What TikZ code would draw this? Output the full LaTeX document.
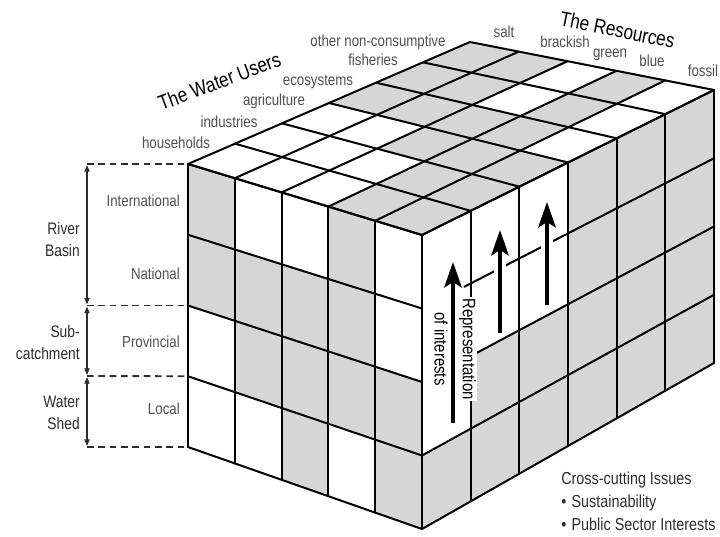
\documentclass[tikz,border=0pt]{standalone}
\usepackage{fontspec}
\setmainfont{Liberation Sans}
\newfontfamily\condfont[FakeStretch=0.83]{Liberation Sans}
\usetikzlibrary{calc,arrows.meta}
\definecolor{cellgrey}{RGB}{214,214,214}
\definecolor{labgrey}{RGB}{80,80,80}
\definecolor{darktext}{RGB}{45,45,45}
\begin{document}
\begin{tikzpicture}[x=0.75pt,y=-0.75pt,
  gridline/.style={line width=1.5pt, line join=round, line cap=round},
  cell/.style={fill=cellgrey},
  userlbl/.style={font=\condfont\fontsize{12}{14}\selectfont, text=labgrey, inner sep=0pt, anchor=base},
  titlelbl/.style={font=\condfont\fontsize{15.5}{17}\selectfont, inner sep=0pt, anchor=base},
  levellbl/.style={font=\condfont\fontsize{12}{14}\selectfont, text=labgrey, inner sep=0pt, anchor=base east},
  scalelbl/.style={font=\condfont\fontsize{12.5}{16.5}\selectfont, text=darktext, inner sep=0pt, align=right, anchor=east},
  crosslbl/.style={font=\condfont\fontsize{13}{17}\selectfont, text=darktext, inner sep=0pt, align=left, anchor=north west},
  dashline/.style={line width=1.4pt, dash pattern=on 5pt off 3.5pt, draw=darktext},
  dimarrow/.style={line width=0.9pt, draw=darktext, {Triangle[length=5pt,width=4pt]}-{Triangle[length=5pt,width=4pt]}, shorten <=0.8pt, shorten >=0.8pt},
  bigarrow/.style={line width=3.2pt, -{Stealth[length=19pt,width=13pt,inset=4pt]}},
  halo/.style={line width=9pt, draw=white, shorten >=12pt},
  replbl/.style={font=\condfont\fontsize{13.5}{20}\selectfont, inner sep=1pt, rotate=-90},
]
\useasboundingbox (0,0) rectangle (720,536);

% cube corners
\coordinate (L)  at (188,164);
\coordinate (B)  at (470,42);
\coordinate (F)  at (422,235);
\coordinate (R)  at (714,90);
\coordinate (Lb) at (188,447);
\coordinate (Fb) at (422,529);
\coordinate (Rb) at (714,363);

% grid points
\foreach \xa in {0,...,6}{\foreach \ya in {0,...,5}{
  \coordinate (t-\xa-\ya) at ($ ($(L)!{\xa/6}!(B)$)!{\ya/5}!($(F)!{\xa/6}!(R)$) $);}}
\foreach \xa in {0,...,5}{\foreach \ya in {0,...,4}{
  \coordinate (f-\xa-\ya) at ($ ($(L)!{\xa/5}!(F)$)!{\ya/4}!($(Lb)!{\xa/5}!(Fb)$) $);}}
\foreach \xa in {0,...,6}{\foreach \ya in {0,...,4}{
  \coordinate (r-\xa-\ya) at ($ ($(F)!{\xa/6}!(R)$)!{\ya/4}!($(Fb)!{\xa/6}!(Rb)$) $);}}

% shaded cells
\foreach \xa/\ya in {0/3,0/4,1/3,1/4,2/2,2/3,2/4,3/0,3/1,3/2,3/3,4/0,4/1,4/3,5/0,5/1,5/3}{
  \pgfmathtruncatemacro\xb{\xa+1}\pgfmathtruncatemacro\yb{\ya+1}
  \fill[cell] (t-\xa-\ya) -- (t-\xb-\ya) -- (t-\xb-\yb) -- (t-\xa-\yb) -- cycle;}
\foreach \xa/\ya in {0/0,3/0,0/1,1/1,2/1,3/1,1/2,2/2,3/2,4/2,2/3,4/3}{
  \pgfmathtruncatemacro\xb{\xa+1}\pgfmathtruncatemacro\yb{\ya+1}
  \fill[cell] (f-\xa-\ya) -- (f-\xb-\ya) -- (f-\xb-\yb) -- (f-\xa-\yb) -- cycle;}
\foreach \xa/\ya in {3/0,4/0,5/0,3/1,4/1,5/1,1/2,2/2,3/2,4/2,5/2,0/3,1/3,2/3,3/3,4/3,5/3}{
  \pgfmathtruncatemacro\xb{\xa+1}\pgfmathtruncatemacro\yb{\ya+1}
  \fill[cell] (r-\xa-\ya) -- (r-\xb-\ya) -- (r-\xb-\yb) -- (r-\xa-\yb) -- cycle;}

% grid lines: top
\foreach \xa in {0,...,6}{\draw[gridline] (t-\xa-0) -- (t-\xa-5);}
\foreach \ya in {0,...,5}{\draw[gridline] (t-0-\ya) -- (t-6-\ya);}
% front
\foreach \xa in {0,...,5}{\draw[gridline] (f-\xa-0) -- (f-\xa-4);}
\foreach \ya in {0,...,4}{\draw[gridline] (f-0-\ya) -- (f-5-\ya);}
% right
\foreach \xa in {1,...,6}{\draw[gridline] (r-\xa-0) -- (r-\xa-4);}
\draw[gridline] (r-0-0) -- (r-6-0);
\draw[gridline] ($(r-0-1)!0.87!(r-1-1)$) -- (r-6-1);
\draw[gridline] (r-1-2) -- (r-6-2);
\draw[gridline] (r-0-3) -- (r-6-3);
\draw[gridline] (r-0-4) -- (r-6-4);

% representation of interests
\node[replbl, fill=white] (rep) at (467.5,349) {Representation};
\node[replbl] (ofi) at (441,349) {of interests};
\coordinate (a1s) at (453,423); \coordinate (a1e) at (453,262);
\coordinate (a2s) at (500,333); \coordinate (a2e) at (500,230);
\coordinate (a3s) at (547,305); \coordinate (a3e) at (547,202);
\draw[halo] (a2s) -- (a2e);
\draw[halo] (a3s) -- (a3e);
\draw[bigarrow] (a1s) -- (a1e);
\draw[bigarrow] (a2s) -- (a2e);
\draw[bigarrow] (a3s) -- (a3e);

% titles
\node[titlelbl, rotate=20.6] (wu) at (222,88) {The Water Users};
\node[titlelbl, rotate=-11.5] (res) at (616,37) {The Resources};

% water users
\node[userlbl] (hh) at (176,148) {households};
\node[userlbl] (ind) at (229,127) {industries};
\node[userlbl] (agr) at (274,105) {agriculture};
\node[userlbl] (eco) at (318,85) {ecosystems};
\node[userlbl] (fis) at (373,65) {fisheries};
\node[userlbl] (onc) at (378,46) {other non-consumptive};

% resources
\node[userlbl] (salt) at (504,37) {salt};
\node[userlbl] (brk) at (565,47) {brackish};
\node[userlbl] (grn) at (610,57) {green};
\node[userlbl] (blu) at (652,66) {blue};
\node[userlbl] (fos) at (703,76) {fossil};

% levels
\node[levellbl] (intl) at (180,206) {International};
\node[levellbl] (natl) at (180,279) {National};
\node[levellbl] (prov) at (180,347) {Provincial};
\node[levellbl] (locl) at (180,414) {Local};

% scale bars
\coordinate (d0) at (87,164);
\coordinate (d2) at (87,305.5);
\coordinate (d3) at (87,376);
\coordinate (d4) at (87,447);
\draw[dashline] (d0) -- (f-0-0);
\draw[dashline] (d2) -- (f-0-2);
\draw[dashline] (d3) -- (f-0-3);
\draw[dashline] (d4) -- (f-0-4);
\draw[dimarrow] (d0) -- (d2);
\draw[dimarrow] (d2) -- (d3);
\draw[dimarrow] (d3) -- (d4);
\node[scalelbl] (rb) at (80,239.5) {River\\Basin};
\node[scalelbl] (sc) at (80,342.5) {Sub-\\catchment};
\node[scalelbl] (ws) at (80,412.5) {Water\\Shed};

% cross-cutting issues
\node[crosslbl] (cc) at (561,472) {Cross-cutting Issues\\•\hspace{4pt}Sustainability\\•\hspace{4pt}Public Sector Interests};
\end{tikzpicture}
\end{document}
